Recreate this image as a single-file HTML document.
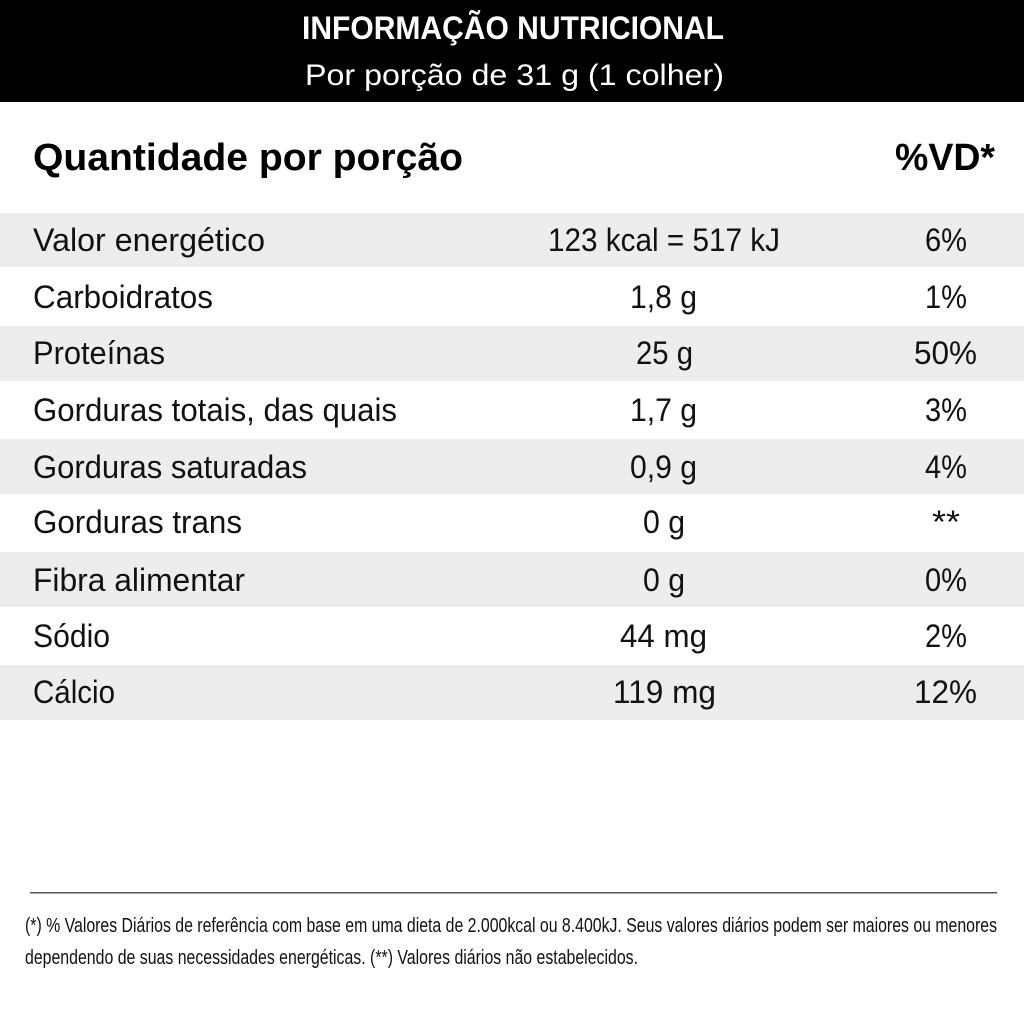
<!DOCTYPE html>
<html><head><meta charset="utf-8"><style>html,body{margin:0;padding:0;background:#fff}svg{display:block}</style></head>
<body>
<svg width="1024" height="1024" viewBox="0 0 1024 1024" xmlns="http://www.w3.org/2000/svg" font-family="'Liberation Sans', sans-serif">
<rect x="0" y="0" width="1024" height="1024" fill="#fff"/>
<rect x="0" y="0" width="1024" height="102" fill="#000"/>
<text x="302" y="39" font-size="32" font-weight="bold" fill="#fff" textLength="422" lengthAdjust="spacingAndGlyphs">INFORMAÇÃO NUTRICIONAL</text>
<text x="305" y="85" font-size="30" fill="#fff" textLength="419" lengthAdjust="spacingAndGlyphs">Por porção de 31 g (1 colher)</text>
<text x="33" y="170" font-size="38" font-weight="bold" fill="#000" textLength="430" lengthAdjust="spacingAndGlyphs">Quantidade por porção</text>
<text x="895" y="170" font-size="38" font-weight="bold" fill="#000" textLength="100" lengthAdjust="spacingAndGlyphs">%VD*</text>
<g fill="#ededed">
<rect x="0" y="213" width="1024" height="54"/>
<rect x="0" y="326" width="1024" height="55"/>
<rect x="0" y="439" width="1024" height="55"/>
<rect x="0" y="552" width="1024" height="55"/>
<rect x="0" y="665" width="1024" height="55"/>
</g>
<g font-size="32" fill="#111">
<text x="33" y="251" textLength="232" lengthAdjust="spacingAndGlyphs">Valor energético</text>
<text x="548" y="251" textLength="232" lengthAdjust="spacingAndGlyphs">123 kcal = 517 kJ</text>
<text x="925" y="251" textLength="42" lengthAdjust="spacingAndGlyphs">6%</text>

<text x="33" y="308" textLength="180" lengthAdjust="spacingAndGlyphs">Carboidratos</text>
<text x="630" y="308" textLength="67" lengthAdjust="spacingAndGlyphs">1,8 g</text>
<text x="925" y="308" textLength="42" lengthAdjust="spacingAndGlyphs">1%</text>

<text x="33" y="364" textLength="132" lengthAdjust="spacingAndGlyphs">Proteínas</text>
<text x="636" y="364" textLength="57" lengthAdjust="spacingAndGlyphs">25 g</text>
<text x="914" y="364" textLength="63" lengthAdjust="spacingAndGlyphs">50%</text>

<text x="33" y="421" textLength="364" lengthAdjust="spacingAndGlyphs">Gorduras totais, das quais</text>
<text x="630" y="421" textLength="67" lengthAdjust="spacingAndGlyphs">1,7 g</text>
<text x="925" y="421" textLength="42" lengthAdjust="spacingAndGlyphs">3%</text>

<text x="33" y="478" textLength="274" lengthAdjust="spacingAndGlyphs">Gorduras saturadas</text>
<text x="630" y="478" textLength="67" lengthAdjust="spacingAndGlyphs">0,9 g</text>
<text x="925" y="478" textLength="42" lengthAdjust="spacingAndGlyphs">4%</text>

<text x="33" y="533" textLength="209" lengthAdjust="spacingAndGlyphs">Gorduras trans</text>
<text x="643" y="533" textLength="42" lengthAdjust="spacingAndGlyphs">0 g</text>
<text x="932" y="533" textLength="28" lengthAdjust="spacingAndGlyphs">**</text>

<text x="33" y="591" textLength="212" lengthAdjust="spacingAndGlyphs">Fibra alimentar</text>
<text x="643" y="591" textLength="42" lengthAdjust="spacingAndGlyphs">0 g</text>
<text x="925" y="591" textLength="42" lengthAdjust="spacingAndGlyphs">0%</text>

<text x="33" y="647" textLength="77" lengthAdjust="spacingAndGlyphs">Sódio</text>
<text x="620" y="647" textLength="87" lengthAdjust="spacingAndGlyphs">44 mg</text>
<text x="925" y="647" textLength="42" lengthAdjust="spacingAndGlyphs">2%</text>

<text x="33" y="703" textLength="82" lengthAdjust="spacingAndGlyphs">Cálcio</text>
<text x="613" y="703" textLength="103" lengthAdjust="spacingAndGlyphs">119 mg</text>
<text x="914" y="703" textLength="63" lengthAdjust="spacingAndGlyphs">12%</text>
</g>
<rect x="30" y="892" width="967" height="1.5" fill="#555"/>
<g font-size="20" fill="#111">
<text x="25" y="932" textLength="972" lengthAdjust="spacingAndGlyphs">(*) % Valores Diários de referência com base em uma dieta de 2.000kcal ou 8.400kJ. Seus valores diários podem ser maiores ou menores</text>
<text x="25" y="964" textLength="613" lengthAdjust="spacingAndGlyphs">dependendo de suas necessidades energéticas. (**) Valores diários não estabelecidos.</text>
</g>
</svg>
</body></html>
